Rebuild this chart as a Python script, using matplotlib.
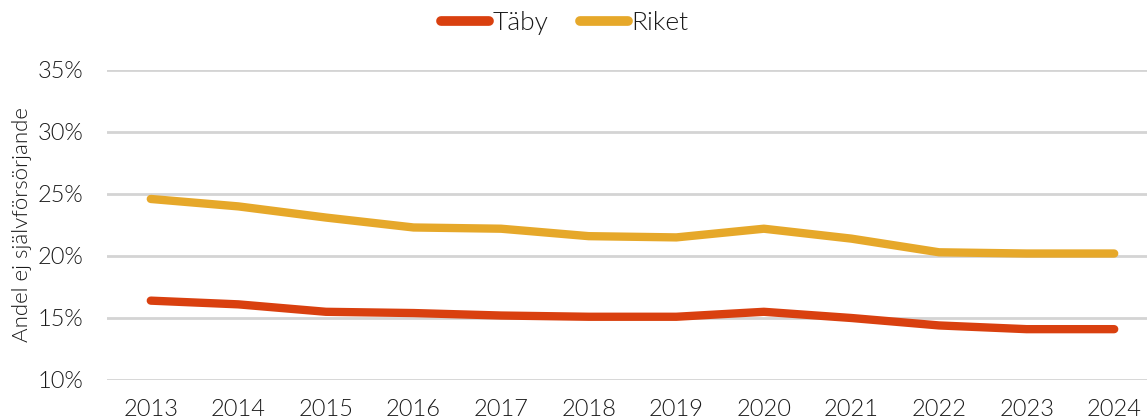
import numpy as np
import matplotlib.pyplot as plt
from matplotlib.ticker import FuncFormatter

plt.rcParams['font.family'] = ['Lato', 'DejaVu Sans']
plt.rcParams['font.weight'] = 300

years = ["2013", "2014", "2015", "2016", "2017", "2018",
         "2019", "2020", "2021", "2022", "2023", "2024"]
taby = [16.4, 16.1, 15.5, 15.4, 15.2, 15.1, 15.1, 15.5, 15.0, 14.4, 14.1, 14.1]
riket = [24.6, 24.0, 23.1, 22.3, 22.2, 21.6, 21.5, 22.2, 21.4, 20.3, 20.2, 20.2]

text_color = "#1a1a1a"

fig = plt.figure(figsize=(11.47, 4.2), dpi=100)
ax = fig.add_axes([107 / 1147, 40 / 420, 1051 / 1147, 310 / 420])

x = np.arange(len(years))
ax.plot(x, taby, color="#D9400F", lw=6, solid_capstyle="round",
        solid_joinstyle="round", label="Täby")
ax.plot(x, riket, color="#E6A82A", lw=6, solid_capstyle="round",
        solid_joinstyle="round", label="Riket")

ax.set_xlim(-0.5, len(years) - 0.5)
ax.set_ylim(10, 35)
ax.set_yticks(np.arange(10, 36, 5))
ax.yaxis.set_major_formatter(FuncFormatter(lambda v, _: f"{v:.0f}%"))
ax.set_xticks(x)
ax.set_xticklabels(years)

ax.grid(axis="y", color="#d4d4d4", lw=2)
ax.set_axisbelow(True)
for s in ax.spines.values():
    s.set_visible(False)
ax.tick_params(length=0, labelsize=17, labelcolor=text_color)
ax.tick_params(axis="x", pad=14)
ax.tick_params(axis="y", pad=17)
for lbl in ax.get_xticklabels() + ax.get_yticklabels():
    lbl.set_fontweight(300)

ax.set_ylabel("Andel ej självförsörjande", fontsize=16, color=text_color,
              fontweight=300, labelpad=4)

leg = fig.legend(loc="center", bbox_to_anchor=(565 / 1147, 1 - 23 / 420),
                 ncol=2, frameon=False, fontsize=19, handlelength=1.8,
                 handletextpad=0.15, columnspacing=1.2)
for t in leg.get_texts():
    t.set_color(text_color)
    t.set_fontweight(300)
for h in leg.get_lines():
    h.set_linewidth(7)

fig.savefig("out.png", dpi=100)
